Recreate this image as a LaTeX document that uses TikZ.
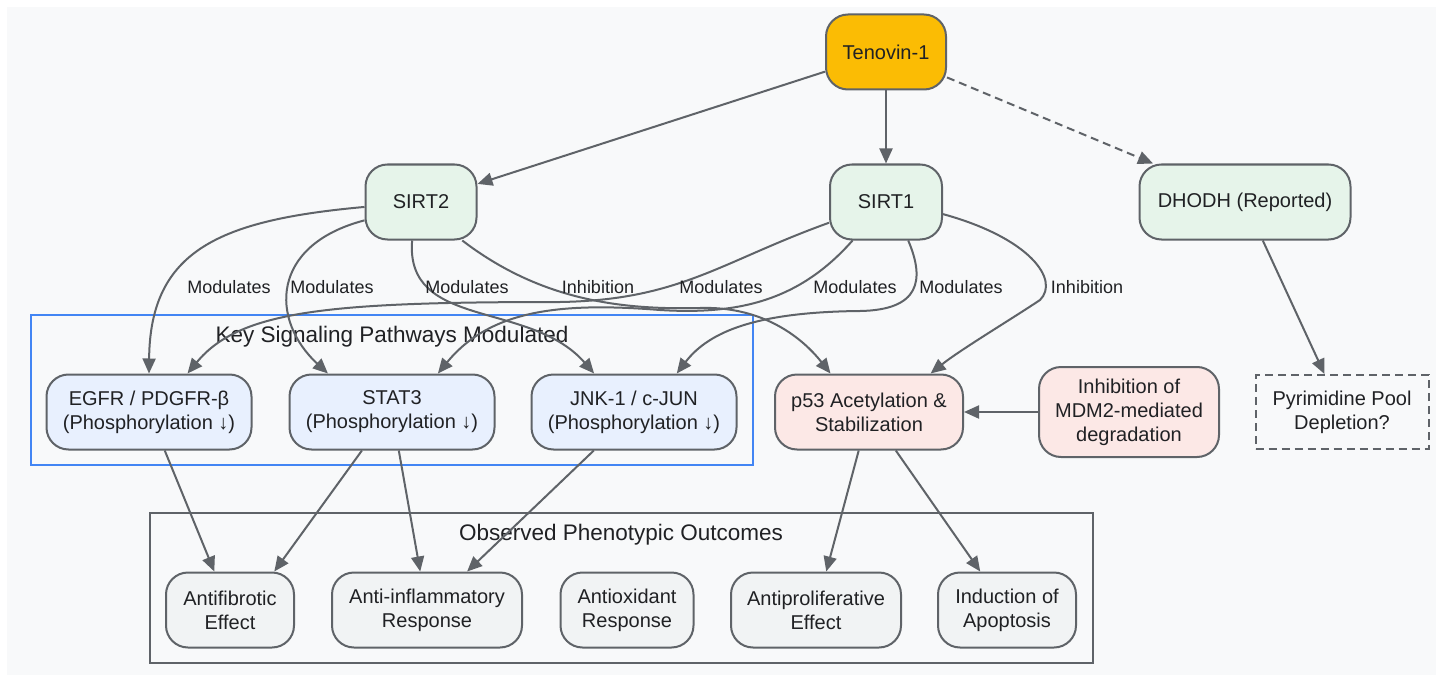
\documentclass[tikz,border=0pt]{standalone}
\usepackage{fontspec}
\setmainfont{Liberation Sans}
\usetikzlibrary{arrows.meta}

\definecolor{bgcol}{HTML}{F8F9FA}
\definecolor{linecol}{HTML}{5F6368}
\definecolor{txtcol}{HTML}{202124}
\definecolor{drugcol}{HTML}{FBBC04}
\definecolor{targetcol}{HTML}{E6F4EA}
\definecolor{pathcol}{HTML}{E8F0FE}
\definecolor{p53col}{HTML}{FCE8E6}
\definecolor{outcol}{HTML}{F1F3F4}
\definecolor{clusterblue}{HTML}{4285F4}

\begin{document}
\begin{tikzpicture}[x=1pt,y=-1pt]
        \tikzstyle{node} = [rectangle, rounded corners=22pt, draw=linecol, line width=2pt, minimum height=75pt, inner sep=0pt, align=center, text=txtcol, font=\fontsize{20}{24}\selectfont]
        \tikzstyle{arrow} = [line width=2pt, draw=linecol, -{Triangle[length=15pt,width=13pt]}]
        \tikzstyle{lbl} = [text=txtcol, font=\fontsize{18}{21}\selectfont]
        \tikzstyle{cluster} = [rectangle, line width=2pt, inner sep=0pt]
        \tikzstyle{clusterlbl} = [text=txtcol, font=\fontsize{22.5}{27}\selectfont]

                \useasboundingbox (0,0) rectangle (1443,682);
                \fill[bgcol] (7,7) rectangle (1436,675);

                % groups
                \node (pathbox) [cluster, draw=clusterblue, minimum width=722pt, minimum height=150pt] at (392,390) {};
                \node (pathlbl) [clusterlbl] at (392,337) {Key Signaling Pathways Modulated};
                \node (outbox) [cluster, draw=linecol, minimum width=943pt, minimum height=150pt] at (621.5,588) {};
                \node (outlbl) [clusterlbl] at (621,535) {Observed Phenotypic Outcomes};

                \node (tenovin) [node, fill=drugcol, minimum width=120pt] at (886,52) {Tenovin-1};
                \node (sirt2) [node, fill=targetcol, minimum width=111pt] at (421,202) {SIRT2};
                \node (sirt1) [node, fill=targetcol, minimum width=112pt] at (886,202) {SIRT1};
                \node (dhodh) [node, fill=targetcol, minimum width=211pt] at (1245,202) {DHODH (Reported)};

                \node (egfr) [node, fill=pathcol, minimum width=205pt] at (149,412) {EGFR / PDGFR-β\\(Phosphorylation ↓)};
                \node (stat3) [node, fill=pathcol, minimum width=205pt] at (392,412) {STAT3\\(Phosphorylation ↓)};
                \node (jnk) [node, fill=pathcol, minimum width=205pt] at (634,412) {JNK-1 / c-JUN\\(Phosphorylation ↓)};
                \node (p53) [node, fill=p53col, minimum width=188pt] at (869,412) {p53 Acetylation \&\\Stabilization};
                \node (mdm2) [node, fill=p53col, minimum width=180pt, minimum height=90pt] at (1129,412) {Inhibition of\\MDM2-mediated\\degradation};
                \node (pyr) [node, rounded corners=0pt, dash pattern=on 8pt off 5pt, fill=bgcol, minimum width=173pt, minimum height=74pt] at (1342,412) {Pyrimidine Pool\\Depletion?};

                \node (fibro) [node, fill=outcol, minimum width=128pt] at (230,610) {Antifibrotic\\Effect};
                \node (inflam) [node, fill=outcol, minimum width=190pt] at (427,610) {Anti-inflammatory\\Response};
                \node (oxid) [node, fill=outcol, minimum width=133pt] at (627,610) {Antioxidant\\Response};
                \node (prolif) [node, fill=outcol, minimum width=170pt] at (816,610) {Antiproliferative\\Effect};
                \node (apop) [node, fill=outcol, minimum width=138pt] at (1007,610) {Induction of\\Apoptosis};

                \draw[arrow] (tenovin) -- (sirt2);
                \draw[arrow] (tenovin) -- (sirt1);
                \draw[arrow, dash pattern=on 8pt off 5pt] (tenovin) -- (dhodh);
                \draw[arrow] (dhodh) -- (pyr);
                \draw[arrow] (mdm2) -- (p53);

                % SIRT2 edges
                \draw[arrow] (sirt2.185) .. controls (220,220) and (150,250) .. (egfr.north);
                \draw[arrow] (sirt2.198) .. controls (270,245) and (270,320) .. (stat3.149);
                \draw[arrow] (sirt2.257) .. controls (405,330) and (530,300) .. (jnk.136);
                \draw[arrow] (sirt2.-43) .. controls (540,300) and (620,310) .. (700,308) .. controls (760,306) and (800,335) .. (p53.135);

                % SIRT1 edges
                \draw[arrow] (sirt1.200) .. controls (720,262) and (680,300) .. (560,302) .. controls (330,302) and (240,310) .. (egfr.45);
                \draw[arrow] (sirt1.229) .. controls (800,300) and (740,315) .. (660,310) .. controls (560,302) and (490,310) .. (stat3.40);
                \draw[arrow] (sirt1.-60) .. controls (925,280) and (920,310) .. (860,311) .. controls (760,312) and (710,330) .. (jnk.42);
                \draw[arrow] (sirt1.-12) .. controls (1030,238) and (1060,280) .. (1040,300) .. controls (1010,320) and (960,350) .. (p53.32);

                \node (l1) [lbl] at (229,287) {Modulates};
                \node (l2) [lbl] at (332,287) {Modulates};
                \node (l3) [lbl] at (467,287) {Modulates};
                \node (l4) [lbl] at (598,287) {Inhibition};
                \node (l5) [lbl] at (721,287) {Modulates};
                \node (l6) [lbl] at (855,287) {Modulates};
                \node (l7) [lbl] at (961,287) {Modulates};
                \node (l8) [lbl] at (1087,287) {Inhibition};

                % outcomes
                \draw[arrow] (egfr) -- (fibro);
                \draw[arrow] (stat3.232) -- (fibro.41);
                \draw[arrow] (stat3) -- (inflam);
                \draw[arrow] (jnk) -- (inflam);
                \draw[arrow] (p53) -- (prolif);
                \draw[arrow] (p53) -- (apop);
    \end{tikzpicture}
\end{document}
